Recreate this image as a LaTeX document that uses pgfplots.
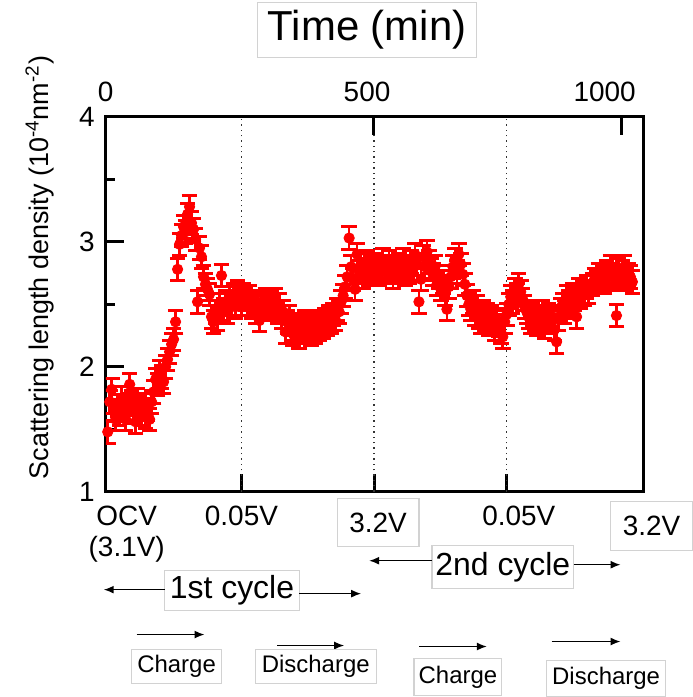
\documentclass[border=0pt]{standalone}
\usepackage{fontspec}
\setmainfont{Liberation Sans}
\usepackage{pgfplots}
\usepackage{pgfplotstable}
\pgfplotsset{compat=1.18}
\usetikzlibrary{arrows.meta}

\pgfplotstableread[row sep=\\]{
t sld\\
3.7 1.48\\7.5 1.72\\11.2 1.82\\14.9 1.65\\18.7 1.58\\22.4 1.69\\26.1 1.62\\29.9 1.75\\33.6 1.66\\37.3 1.58\\41.1 1.70\\44.8 1.86\\48.5 1.72\\52.2 1.64\\56.0 1.56\\59.7 1.74\\63.4 1.68\\67.2 1.62\\70.9 1.70\\74.6 1.60\\78.4 1.66\\82.1 1.58\\85.8 1.72\\
89.6 1.80\\93.3 1.90\\97.0 1.86\\100.8 1.96\\104.5 1.92\\108.2 1.88\\112.0 2.00\\115.7 2.06\\119.4 2.12\\123.2 2.18\\126.9 2.22\\130.6 2.36\\
134.4 2.78\\138.1 2.98\\141.8 3.05\\145.5 3.12\\149.3 3.08\\153.0 3.22\\156.7 3.28\\160.5 3.15\\164.2 3.10\\167.9 3.02\\171.7 2.52\\175.4 2.95\\179.1 2.88\\
182.9 2.72\\186.6 2.66\\190.3 2.62\\194.1 2.58\\197.8 2.40\\201.5 2.36\\205.3 2.44\\209.0 2.38\\212.7 2.50\\216.5 2.73\\220.2 2.46\\223.9 2.52\\227.7 2.44\\231.4 2.55\\235.1 2.50\\238.8 2.58\\242.6 2.48\\246.3 2.60\\250.0 2.55\\253.8 2.50\\257.5 2.58\\261.2 2.54\\265.0 2.50\\268.7 2.56\\272.4 2.48\\276.2 2.52\\279.9 2.44\\283.6 2.50\\287.4 2.37\\291.1 2.52\\294.8 2.48\\298.6 2.54\\302.3 2.50\\306.0 2.46\\309.8 2.52\\313.5 2.48\\317.2 2.54\\320.9 2.44\\324.7 2.50\\328.4 2.40\\332.1 2.44\\335.9 2.28\\339.6 2.36\\
343.3 2.40\\347.1 2.30\\350.8 2.26\\354.5 2.34\\358.3 2.28\\362.0 2.24\\365.7 2.32\\369.5 2.28\\373.2 2.36\\376.9 2.30\\380.7 2.34\\384.4 2.26\\388.1 2.32\\391.9 2.28\\395.6 2.34\\399.3 2.30\\403.1 2.36\\406.8 2.32\\410.5 2.38\\414.3 2.34\\418.0 2.40\\421.7 2.36\\425.4 2.42\\429.2 2.38\\432.9 2.46\\436.6 2.44\\440.4 2.52\\444.1 2.57\\447.8 2.64\\
451.6 2.72\\455.3 3.03\\459.0 2.80\\462.8 2.70\\466.5 2.62\\470.2 2.90\\474.0 2.76\\477.7 2.82\\481.4 2.72\\485.2 2.78\\488.9 2.84\\492.6 2.74\\496.4 2.80\\500.1 2.76\\503.8 2.82\\507.6 2.78\\511.3 2.74\\515.0 2.80\\518.7 2.86\\522.5 2.76\\526.2 2.80\\529.9 2.84\\533.7 2.78\\537.4 2.72\\541.1 2.80\\544.9 2.76\\548.6 2.82\\552.3 2.78\\556.1 2.86\\559.8 2.74\\563.5 2.80\\567.3 2.76\\571.0 2.84\\574.7 2.78\\578.5 2.90\\582.2 2.82\\585.9 2.52\\589.7 2.70\\593.4 2.88\\597.1 2.80\\600.9 2.92\\604.6 2.84\\608.3 2.78\\612.0 2.74\\615.8 2.80\\619.5 2.66\\623.2 2.72\\627.0 2.62\\630.7 2.68\\634.4 2.58\\638.2 2.46\\641.9 2.64\\645.6 2.72\\649.4 2.80\\653.1 2.86\\656.8 2.76\\660.6 2.90\\664.3 2.82\\668.0 2.74\\671.8 2.66\\
675.5 2.57\\679.2 2.50\\683.0 2.46\\686.7 2.52\\690.4 2.42\\694.2 2.48\\697.9 2.40\\701.6 2.36\\705.4 2.44\\709.1 2.38\\712.8 2.42\\716.5 2.34\\720.3 2.40\\724.0 2.36\\727.7 2.30\\731.5 2.38\\735.2 2.33\\738.9 2.28\\742.7 2.24\\746.4 2.36\\750.1 2.42\\753.9 2.50\\757.6 2.56\\761.3 2.52\\765.1 2.62\\768.8 2.58\\772.5 2.66\\776.3 2.60\\780.0 2.54\\783.7 2.48\\
787.5 2.44\\791.2 2.40\\794.9 2.36\\798.6 2.42\\802.4 2.38\\806.1 2.34\\809.8 2.40\\813.6 2.36\\817.3 2.44\\821.0 2.32\\824.8 2.38\\828.5 2.42\\832.2 2.36\\836.0 2.40\\839.7 2.30\\843.4 2.20\\847.2 2.38\\850.9 2.46\\854.6 2.50\\858.4 2.44\\862.1 2.56\\865.8 2.52\\869.6 2.48\\873.3 2.58\\877.0 2.54\\880.8 2.40\\884.5 2.62\\888.2 2.56\\891.9 2.60\\895.7 2.58\\899.4 2.64\\903.1 2.60\\
910.6 2.66\\914.3 2.70\\918.1 2.68\\921.8 2.74\\925.5 2.70\\929.3 2.72\\933.0 2.68\\936.7 2.76\\940.5 2.72\\944.2 2.80\\947.9 2.74\\951.7 2.70\\955.4 2.41\\959.1 2.78\\962.9 2.72\\966.6 2.76\\970.3 2.80\\974.0 2.70\\977.8 2.74\\981.5 2.72\\985.2 2.68\\
}\sld

\begin{document}
\begin{tikzpicture}
\begin{scope}[x=0.5pt,y=-0.5pt]
\path[use as bounding box] (0,0) rectangle (688,697);
\end{scope}

\begin{axis}[
  at={(53pt,-246.5pt)}, anchor=south west,
  scale only axis, width=269.5pt, height=188pt,
  xmin=0, xmax=1006, ymin=1, ymax=4,
  axis line style={line width=1.5pt, line join=miter},
  xtick={0,254,502,750,1006}, xticklabels={},
  xtick pos=left, ytick pos=left,
  ytick={1,2,3,4}, minor ytick={1.5,2.5,3.5},
  tick align=inside,
  major tick length=9pt, minor tick length=4.5pt,
  tick style={black, line width=1.5pt},
  tick label style={font=\fontsize{14}{16}\selectfont},
  /pgf/number format/assume math mode=true,
  yticklabel shift=2pt,
  ylabel={Scattering length density (10\textsuperscript{-4}nm\textsuperscript{-2})},
  ylabel style={at={(axis description cs:-0.1224,0.598)}, anchor=center, font=\fontsize{13.5}{15}\selectfont},
  title={Time (min)},
  title style={at={(axis description cs:0.486,1.1995)}, anchor=center, draw=gray!35, line width=0.6pt, minimum width=110pt, minimum height=27.5pt, inner sep=0pt, font=\fontsize{21}{24}\selectfont},
]
\addplot[black!80, dotted, line width=0.7pt, forget plot] coordinates {(254,1) (254,4)};
\addplot[black!80, dotted, line width=0.7pt, forget plot] coordinates {(502,1) (502,4)};
\addplot[black!80, dotted, line width=0.7pt, forget plot] coordinates {(750,1) (750,4)};
\addplot[only marks, mark=*, mark size=2.6pt, red, mark options={fill=red, draw=red},
  error bars/.cd, y dir=both, y fixed=0.09,
  error bar style={line width=1.3pt, red},
  error mark options={rotate=90, red, mark size=3.9pt, line width=1.5pt}]
  table[x=t, y=sld]{\sld};
\end{axis}

\begin{axis}[
  at={(53pt,-246.5pt)}, anchor=south west,
  scale only axis, width=269.5pt, height=188pt,
  xmin=0, xmax=1006, ymin=1, ymax=4,
  axis line style={draw=none},
  xtick={0,500,965}, xticklabels={0,{500\hspace*{6pt}},{1000\hspace*{17pt}}},
  xtick pos=right, xticklabel pos=right, ytick=\empty,
  tick align=inside, major tick length=9pt,
  tick style={black, line width=1.5pt},
  tick label style={font=\fontsize{14}{16}\selectfont},
  /pgf/number format/assume math mode=true,
  xticklabel shift=4pt,
]
\end{axis}

\begin{scope}[x=0.5pt,y=-0.5pt, every node/.style={font=\fontsize{14}{16}\selectfont, inner sep=0pt}]
\node at (127,517) {OCV};
\node at (127,551) {(3.1V)};
\node at (242,517) {0.05V};
\node[draw=gray!35, line width=0.6pt, minimum width=41pt, minimum height=24pt] at (379,524) {3.2V};
\node at (520,517) {0.05V};
\node[draw=gray!35, line width=0.6pt, minimum width=41pt, minimum height=24.5pt] at (653,527.5) {3.2V};
\node[draw=gray!35, line width=0.6pt, minimum width=71pt, minimum height=21.5pt, font=\fontsize{16}{18}\selectfont] (c2) at (504,568.5) {2nd cycle};
\node[draw=gray!35, line width=0.6pt, minimum width=67.5pt, minimum height=20pt, font=\fontsize{16}{18}\selectfont] (c1) at (232.5,592) {1st cycle};
\draw[line width=0.75pt, -{Latex[length=5pt,width=4pt]}] (433,562) -- (370,562);
\draw[line width=0.75pt, -{Latex[length=5pt,width=4pt]}] (575,566) -- (622,566);
\draw[line width=0.75pt, -{Latex[length=5pt,width=4pt]}] (165,591) -- (104,591);
\draw[line width=0.75pt, -{Latex[length=5pt,width=4pt]}] (300,595) -- (362,595);
\draw[line width=0.75pt, -{Latex[length=5pt,width=4pt]}] (137,636) -- (205,636);
\draw[line width=0.75pt, -{Latex[length=5pt,width=4pt]}] (278,647) -- (345,647);
\draw[line width=0.75pt, -{Latex[length=5pt,width=4pt]}] (420,648) -- (488,648);
\draw[line width=0.75pt, -{Latex[length=5pt,width=4pt]}] (553,643) -- (622,643);
\node[draw=gray!35, line width=0.6pt, minimum width=45pt, minimum height=17pt, font=\fontsize{12}{14}\selectfont] at (177,668) {Charge};
\node[draw=gray!35, line width=0.6pt, minimum width=60.5pt, minimum height=17pt, font=\fontsize{12}{14}\selectfont] at (316.5,668) {Discharge};
\node[draw=gray!35, line width=0.6pt, minimum width=44pt, minimum height=18.5pt, font=\fontsize{12}{14}\selectfont] at (459,678.5) {Charge};
\node[draw=gray!35, line width=0.6pt, minimum width=59.5pt, minimum height=18pt, font=\fontsize{12}{14}\selectfont] at (607.5,680) {Discharge};
\end{scope}
\end{tikzpicture}
\end{document}
